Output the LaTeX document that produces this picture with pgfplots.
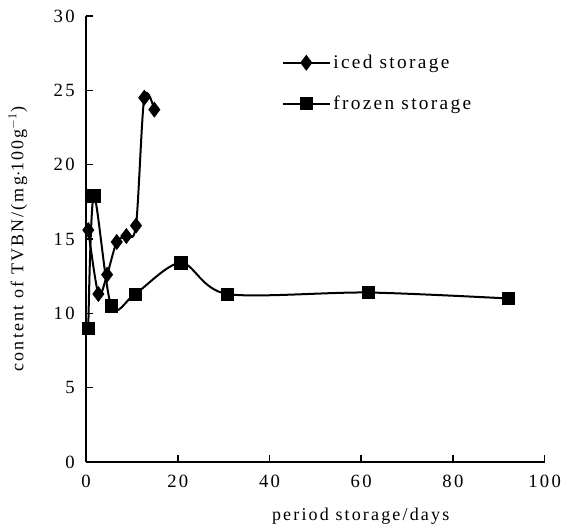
\documentclass[border=0pt]{standalone}
\usepackage{fontspec}
\setmainfont{Liberation Serif}[LetterSpace=12]
\usepackage{pgfplots}
\pgfplotsset{compat=1.18}
\usetikzlibrary{calc}
\begin{document}
\begin{tikzpicture}
\begin{axis}[
  name=ax,
  scale only axis,
  width=344pt, height=334.5pt,
  xmin=0, xmax=100, ymin=0, ymax=30,
  xtick={0,20,...,100}, ytick={0,5,...,30},
  axis lines=left,
  axis line style={-, line width=1.5pt},
  tick style={line width=1.2pt, black},
  tick align=inside,
  major tick length=5pt,
  /pgf/number format/assume math mode=true,
  tick label style={font=\fontsize{14}{16}\selectfont},
  yticklabel style={xshift=-5pt},
  xticklabel style={yshift=-6pt},
  label style={font=\fontsize{13.5}{15}\selectfont},
  xlabel={period storage/days},
  xlabel style={xshift=34pt, yshift=-9pt},
  ylabel={content of TVBN/(mg$\cdot$100g$^{-1}$)},
  ylabel style={yshift=13pt},
  legend style={draw=none, fill=none, at={(0.418,0.925)}, anchor=north west,
    font=\fontsize{14.5}{16}\selectfont, row sep=15pt,
    /tikz/every even column/.append style={column sep=2pt}},
  legend cell align=left,
  legend image code/.code={
    \draw[#1] (0pt,0pt) -- (35pt,0pt);
    \draw[#1, only marks] plot coordinates {(17.5pt,0pt)};
  },
]
\addplot[black, line width=1.5pt, smooth, tension=0.5, mark=diamond*, mark size=5.6pt,
  mark options={solid, fill=black, line width=0.5pt}]
  coordinates {(0.5,15.6) (2.7,11.3) (4.6,12.6) (6.7,14.8) (8.8,15.2) (10.9,15.9) (12.7,24.5) (14.9,23.7)};
\addlegendentry{iced storage}
\addplot[black, line width=1.5pt, smooth, tension=0.5, mark=square*, mark size=4.6pt,
  mark options={solid, fill=black, line width=0.5pt}]
  coordinates {(0.5,9.0) (1.7,17.9) (5.5,10.5) (10.7,11.3) (20.7,13.4) (30.8,11.3) (61.5,11.4) (92,11.0)};
\addlegendentry{frozen storage}
\end{axis}
\path[use as bounding box] ($(ax.south west)+(-64.5pt,-49pt)$) rectangle ($(ax.north east)+(22pt,12pt)$);
\end{tikzpicture}
\end{document}
